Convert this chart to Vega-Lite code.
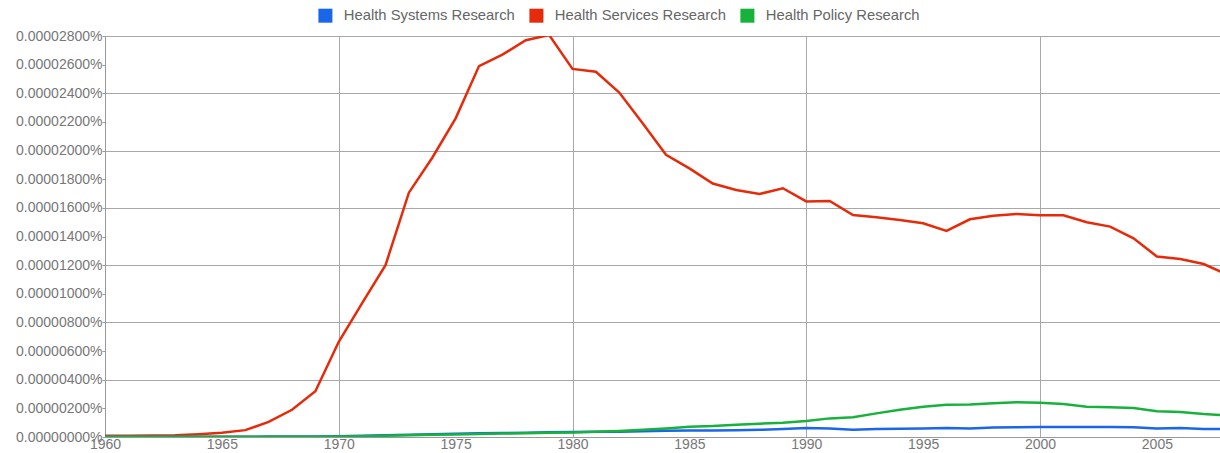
{
  "$schema": "https://vega.github.io/schema/vega-lite/v6.json",
  "width": 1115,
  "height": 401,
  "autosize": {"type": "none"},
  "padding": {"left": 105, "top": 36, "right": 0, "bottom": 16},
  "background": "white",
  "config": {"view": {"stroke": null}, "font": "Liberation Sans"},
  "datasets": {
    "ngrams": [
      {"year": 1960, "series": "Health Services Research", "value": 0.08e-6},
      {"year": 1961, "series": "Health Services Research", "value": 0.08e-6},
      {"year": 1962, "series": "Health Services Research", "value": 0.1e-6},
      {"year": 1963, "series": "Health Services Research", "value": 0.12e-6},
      {"year": 1964, "series": "Health Services Research", "value": 0.2e-6},
      {"year": 1965, "series": "Health Services Research", "value": 0.3e-6},
      {"year": 1966, "series": "Health Services Research", "value": 0.48e-6},
      {"year": 1967, "series": "Health Services Research", "value": 1.05e-6},
      {"year": 1968, "series": "Health Services Research", "value": 1.9e-6},
      {"year": 1969, "series": "Health Services Research", "value": 3.2e-6},
      {"year": 1970, "series": "Health Services Research", "value": 6.65e-6},
      {"year": 1971, "series": "Health Services Research", "value": 9.35e-6},
      {"year": 1972, "series": "Health Services Research", "value": 12.0e-6},
      {"year": 1973, "series": "Health Services Research", "value": 17.06e-6},
      {"year": 1974, "series": "Health Services Research", "value": 19.5e-6},
      {"year": 1975, "series": "Health Services Research", "value": 22.25e-6},
      {"year": 1976, "series": "Health Services Research", "value": 25.9e-6},
      {"year": 1977, "series": "Health Services Research", "value": 26.7e-6},
      {"year": 1978, "series": "Health Services Research", "value": 27.7e-6},
      {"year": 1979, "series": "Health Services Research", "value": 28.07e-6},
      {"year": 1980, "series": "Health Services Research", "value": 25.7e-6},
      {"year": 1981, "series": "Health Services Research", "value": 25.5e-6},
      {"year": 1982, "series": "Health Services Research", "value": 24.05e-6},
      {"year": 1983, "series": "Health Services Research", "value": 21.9e-6},
      {"year": 1984, "series": "Health Services Research", "value": 19.7e-6},
      {"year": 1985, "series": "Health Services Research", "value": 18.76e-6},
      {"year": 1986, "series": "Health Services Research", "value": 17.7e-6},
      {"year": 1987, "series": "Health Services Research", "value": 17.25e-6},
      {"year": 1988, "series": "Health Services Research", "value": 16.97e-6},
      {"year": 1989, "series": "Health Services Research", "value": 17.37e-6},
      {"year": 1990, "series": "Health Services Research", "value": 16.45e-6},
      {"year": 1991, "series": "Health Services Research", "value": 16.48e-6},
      {"year": 1992, "series": "Health Services Research", "value": 15.5e-6},
      {"year": 1993, "series": "Health Services Research", "value": 15.34e-6},
      {"year": 1994, "series": "Health Services Research", "value": 15.15e-6},
      {"year": 1995, "series": "Health Services Research", "value": 14.92e-6},
      {"year": 1996, "series": "Health Services Research", "value": 14.39e-6},
      {"year": 1997, "series": "Health Services Research", "value": 15.2e-6},
      {"year": 1998, "series": "Health Services Research", "value": 15.45e-6},
      {"year": 1999, "series": "Health Services Research", "value": 15.57e-6},
      {"year": 2000, "series": "Health Services Research", "value": 15.48e-6},
      {"year": 2001, "series": "Health Services Research", "value": 15.48e-6},
      {"year": 2002, "series": "Health Services Research", "value": 14.99e-6},
      {"year": 2003, "series": "Health Services Research", "value": 14.69e-6},
      {"year": 2004, "series": "Health Services Research", "value": 13.87e-6},
      {"year": 2005, "series": "Health Services Research", "value": 12.6e-6},
      {"year": 2006, "series": "Health Services Research", "value": 12.43e-6},
      {"year": 2007, "series": "Health Services Research", "value": 12.08e-6},
      {"year": 2008, "series": "Health Services Research", "value": 11.35e-6},

      {"year": 1960, "series": "Health Systems Research", "value": 0.01e-6},
      {"year": 1961, "series": "Health Systems Research", "value": 0.01e-6},
      {"year": 1962, "series": "Health Systems Research", "value": 0.01e-6},
      {"year": 1963, "series": "Health Systems Research", "value": 0.01e-6},
      {"year": 1964, "series": "Health Systems Research", "value": 0.01e-6},
      {"year": 1965, "series": "Health Systems Research", "value": 0.02e-6},
      {"year": 1966, "series": "Health Systems Research", "value": 0.02e-6},
      {"year": 1967, "series": "Health Systems Research", "value": 0.03e-6},
      {"year": 1968, "series": "Health Systems Research", "value": 0.03e-6},
      {"year": 1969, "series": "Health Systems Research", "value": 0.04e-6},
      {"year": 1970, "series": "Health Systems Research", "value": 0.05e-6},
      {"year": 1971, "series": "Health Systems Research", "value": 0.08e-6},
      {"year": 1972, "series": "Health Systems Research", "value": 0.12e-6},
      {"year": 1973, "series": "Health Systems Research", "value": 0.16e-6},
      {"year": 1974, "series": "Health Systems Research", "value": 0.2e-6},
      {"year": 1975, "series": "Health Systems Research", "value": 0.23e-6},
      {"year": 1976, "series": "Health Systems Research", "value": 0.26e-6},
      {"year": 1977, "series": "Health Systems Research", "value": 0.28e-6},
      {"year": 1978, "series": "Health Systems Research", "value": 0.3e-6},
      {"year": 1979, "series": "Health Systems Research", "value": 0.33e-6},
      {"year": 1980, "series": "Health Systems Research", "value": 0.35e-6},
      {"year": 1981, "series": "Health Systems Research", "value": 0.36e-6},
      {"year": 1982, "series": "Health Systems Research", "value": 0.37e-6},
      {"year": 1983, "series": "Health Systems Research", "value": 0.4e-6},
      {"year": 1984, "series": "Health Systems Research", "value": 0.43e-6},
      {"year": 1985, "series": "Health Systems Research", "value": 0.45e-6},
      {"year": 1986, "series": "Health Systems Research", "value": 0.46e-6},
      {"year": 1987, "series": "Health Systems Research", "value": 0.48e-6},
      {"year": 1988, "series": "Health Systems Research", "value": 0.5e-6},
      {"year": 1989, "series": "Health Systems Research", "value": 0.55e-6},
      {"year": 1990, "series": "Health Systems Research", "value": 0.62e-6},
      {"year": 1991, "series": "Health Systems Research", "value": 0.6e-6},
      {"year": 1992, "series": "Health Systems Research", "value": 0.5e-6},
      {"year": 1993, "series": "Health Systems Research", "value": 0.56e-6},
      {"year": 1994, "series": "Health Systems Research", "value": 0.57e-6},
      {"year": 1995, "series": "Health Systems Research", "value": 0.6e-6},
      {"year": 1996, "series": "Health Systems Research", "value": 0.63e-6},
      {"year": 1997, "series": "Health Systems Research", "value": 0.6e-6},
      {"year": 1998, "series": "Health Systems Research", "value": 0.66e-6},
      {"year": 1999, "series": "Health Systems Research", "value": 0.68e-6},
      {"year": 2000, "series": "Health Systems Research", "value": 0.7e-6},
      {"year": 2001, "series": "Health Systems Research", "value": 0.7e-6},
      {"year": 2002, "series": "Health Systems Research", "value": 0.7e-6},
      {"year": 2003, "series": "Health Systems Research", "value": 0.69e-6},
      {"year": 2004, "series": "Health Systems Research", "value": 0.68e-6},
      {"year": 2005, "series": "Health Systems Research", "value": 0.6e-6},
      {"year": 2006, "series": "Health Systems Research", "value": 0.62e-6},
      {"year": 2007, "series": "Health Systems Research", "value": 0.56e-6},
      {"year": 2008, "series": "Health Systems Research", "value": 0.56e-6},

      {"year": 1960, "series": "Health Policy Research", "value": 0.01e-6},
      {"year": 1961, "series": "Health Policy Research", "value": 0.01e-6},
      {"year": 1962, "series": "Health Policy Research", "value": 0.01e-6},
      {"year": 1963, "series": "Health Policy Research", "value": 0.01e-6},
      {"year": 1964, "series": "Health Policy Research", "value": 0.01e-6},
      {"year": 1965, "series": "Health Policy Research", "value": 0.01e-6},
      {"year": 1966, "series": "Health Policy Research", "value": 0.01e-6},
      {"year": 1967, "series": "Health Policy Research", "value": 0.02e-6},
      {"year": 1968, "series": "Health Policy Research", "value": 0.02e-6},
      {"year": 1969, "series": "Health Policy Research", "value": 0.02e-6},
      {"year": 1970, "series": "Health Policy Research", "value": 0.03e-6},
      {"year": 1971, "series": "Health Policy Research", "value": 0.06e-6},
      {"year": 1972, "series": "Health Policy Research", "value": 0.09e-6},
      {"year": 1973, "series": "Health Policy Research", "value": 0.12e-6},
      {"year": 1974, "series": "Health Policy Research", "value": 0.15e-6},
      {"year": 1975, "series": "Health Policy Research", "value": 0.18e-6},
      {"year": 1976, "series": "Health Policy Research", "value": 0.21e-6},
      {"year": 1977, "series": "Health Policy Research", "value": 0.24e-6},
      {"year": 1978, "series": "Health Policy Research", "value": 0.26e-6},
      {"year": 1979, "series": "Health Policy Research", "value": 0.29e-6},
      {"year": 1980, "series": "Health Policy Research", "value": 0.32e-6},
      {"year": 1981, "series": "Health Policy Research", "value": 0.37e-6},
      {"year": 1982, "series": "Health Policy Research", "value": 0.42e-6},
      {"year": 1983, "series": "Health Policy Research", "value": 0.5e-6},
      {"year": 1984, "series": "Health Policy Research", "value": 0.6e-6},
      {"year": 1985, "series": "Health Policy Research", "value": 0.72e-6},
      {"year": 1986, "series": "Health Policy Research", "value": 0.76e-6},
      {"year": 1987, "series": "Health Policy Research", "value": 0.85e-6},
      {"year": 1988, "series": "Health Policy Research", "value": 0.93e-6},
      {"year": 1989, "series": "Health Policy Research", "value": 1.0e-6},
      {"year": 1990, "series": "Health Policy Research", "value": 1.12e-6},
      {"year": 1991, "series": "Health Policy Research", "value": 1.3e-6},
      {"year": 1992, "series": "Health Policy Research", "value": 1.38e-6},
      {"year": 1993, "series": "Health Policy Research", "value": 1.65e-6},
      {"year": 1994, "series": "Health Policy Research", "value": 1.9e-6},
      {"year": 1995, "series": "Health Policy Research", "value": 2.12e-6},
      {"year": 1996, "series": "Health Policy Research", "value": 2.25e-6},
      {"year": 1997, "series": "Health Policy Research", "value": 2.27e-6},
      {"year": 1998, "series": "Health Policy Research", "value": 2.35e-6},
      {"year": 1999, "series": "Health Policy Research", "value": 2.42e-6},
      {"year": 2000, "series": "Health Policy Research", "value": 2.4e-6},
      {"year": 2001, "series": "Health Policy Research", "value": 2.3e-6},
      {"year": 2002, "series": "Health Policy Research", "value": 2.12e-6},
      {"year": 2003, "series": "Health Policy Research", "value": 2.08e-6},
      {"year": 2004, "series": "Health Policy Research", "value": 2.02e-6},
      {"year": 2005, "series": "Health Policy Research", "value": 1.8e-6},
      {"year": 2006, "series": "Health Policy Research", "value": 1.75e-6},
      {"year": 2007, "series": "Health Policy Research", "value": 1.6e-6},
      {"year": 2008, "series": "Health Policy Research", "value": 1.52e-6}
    ]
  },
  "data": {"name": "ngrams"},
  "mark": {"type": "line", "strokeWidth": 2.5, "clip": true},
  "encoding": {
    "x": {
      "field": "year",
      "type": "quantitative",
      "scale": {"domain": [1960, 2007.7], "nice": false, "zero": false},
      "axis": {
        "title": null,
        "values": [1960, 1965, 1970, 1975, 1980, 1985, 1990, 1995, 2000, 2005],
        "format": "d",
        "labelFlush": false,
        "labelColor": "#777777",
        "labelFontSize": 14,
        "labelPadding": 0,
        "ticks": false,
        "domainColor": "#999999",
        "grid": true,
        "gridColor": "#a8a8a8",
        "gridOpacity": {"condition": {"test": "datum.value % 10 == 0 && datum.value > 1960", "value": 1}, "value": 0}
      }
    },
    "y": {
      "field": "value",
      "type": "quantitative",
      "scale": {"domain": [0, 0.000028], "nice": false},
      "axis": {
        "title": null,
        "values": [0, 0.000002, 0.000004, 0.000006, 0.000008, 0.00001, 0.000012, 0.000014, 0.000016, 0.000018, 0.00002, 0.000022, 0.000024, 0.000026, 0.000028],
        "labelExpr": "format(datum.value, '.8f') + '%'",
        "labelColor": "#777777",
        "labelFontSize": 14,
        "labelPadding": 0,
        "tickSize": 3,
        "tickColor": "#999999",
        "domainColor": "#999999",
        "grid": true,
        "gridColor": "#a8a8a8",
        "gridOpacity": {"condition": {"test": "round(datum.value * 1000000) % 4 == 0", "value": 1}, "value": 0}
      }
    },
    "color": {
      "field": "series",
      "type": "nominal",
      "sort": ["Health Systems Research", "Health Services Research", "Health Policy Research"],
      "scale": {
        "domain": ["Health Systems Research", "Health Services Research", "Health Policy Research"],
        "range": ["#1a66e8", "#e62a0a", "#16b23c"]
      },
      "legend": {
        "title": null,
        "orient": "none",
        "legendX": 213,
        "legendY": -28,
        "direction": "horizontal",
        "symbolType": "square",
        "symbolSize": 196,
        "symbolStrokeWidth": 0,
        "labelFontSize": 14.8,
        "labelColor": "#666666",
        "labelOffset": 11,
        "columnPadding": 14,
        "labelLimit": 300,
        "encode": {
          "symbols": {"update": {"fill": {"scale": "color", "field": "value"}, "fillOpacity": {"value": 1}}}
        }
      }
    }
  }
}
